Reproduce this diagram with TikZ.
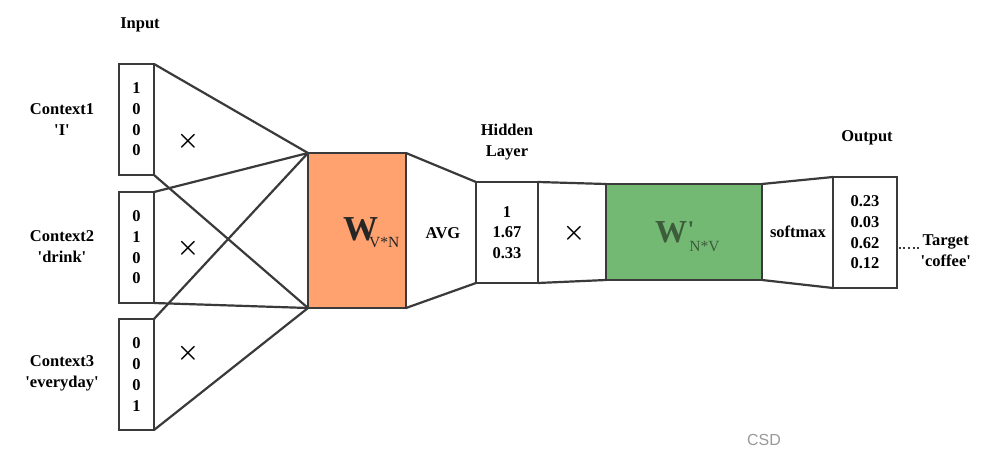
\documentclass[tikz,border=0pt]{standalone}
\usepackage{fontspec}
\setmainfont{Liberation Serif}[Ligatures=TeXOff]
\newfontfamily\csdfont{Liberation Sans}
\begin{document}
\begin{tikzpicture}[x=1pt,y=-1pt,
  edge/.style={draw=lineC,line width=2.2pt},
  vecbox/.style={draw=lineC,line width=2.2pt,inner sep=0pt,outer sep=0pt,align=center,
    font=\fontsize{16.5}{20.7}\selectfont\bfseries},
  lbl/.style={align=center,font=\fontsize{16.5}{21}\selectfont\bfseries},
  mult/.style={font=\fontsize{24}{24}\selectfont\boldmath},
  ]
\definecolor{lineC}{HTML}{3A3A3A}
\definecolor{orangeC}{HTML}{FFA26F}
\definecolor{greenC}{HTML}{73B873}
\definecolor{wgreen}{HTML}{3C5C3C}
\useasboundingbox[fill=white] (0,0) rectangle (1005,457);

% input vectors
\node[vecbox,minimum width=35,minimum height=111] (in1) at (136.5,119.5) {1\\0\\0\\0};
\node[vecbox,minimum width=35,minimum height=111] (in2) at (136.5,247.5) {0\\1\\0\\0};
\node[vecbox,minimum width=35,minimum height=111] (in3) at (136.5,374.5) {0\\0\\0\\1};

% W matrix
\node[vecbox,fill=orangeC,minimum width=98,minimum height=155] (W) at (357,230.5) {};
\node[anchor=base west,inner sep=0pt,text=black!85] (Wt) at (343,241)
  {\fontsize{35}{35}\selectfont\bfseries W\kern-9pt\fontsize{15.5}{15.5}\selectfont\mdseries\raisebox{-7pt}{V*N}};

% hidden layer
\node[vecbox,minimum width=62,minimum height=101] (hid) at (507,232.5) {1\\1.67\\0.33};

% W' matrix
\node[vecbox,fill=greenC,minimum width=156,minimum height=96] (Wp) at (684,232) {};
\node[anchor=base west,inner sep=0pt,text=wgreen] (Wpt) at (655,243)
  {\fontsize{32}{32}\selectfont\bfseries W\kern0.5pt\raisebox{5pt}{\fontsize{24}{24}\selectfont '}\kern-5pt\fontsize{15.5}{15.5}\selectfont\mdseries\raisebox{-9pt}{N*V}};

% output
\node[vecbox,minimum width=64,minimum height=111] (out) at (865,232.5) {0.23\\0.03\\0.62\\0.12};

% connectors: inputs to W
\draw[edge] (in1.north east) -- (W.north west);
\draw[edge] (in1.south east) -- (W.south west);
\draw[edge] (in2.north east) -- (W.north west);
\draw[edge] (in2.south east) -- (W.south west);
\draw[edge] (in3.north east) -- (W.north west);
\draw[edge] (in3.south east) -- (W.south west);

% W to hidden
\draw[edge] (W.north east) -- (hid.north west);
\draw[edge] (W.south east) -- (hid.south west);
% hidden to W'
\draw[edge] (hid.north east) -- (Wp.north west);
\draw[edge] (hid.south east) -- (Wp.south west);
% W' to output
\draw[edge] (Wp.north east) -- (out.north west);
\draw[edge] (Wp.south east) -- (out.south west);

% labels
\node[lbl] (inlbl) at (140,25) {Input};
\node[lbl] (c1) at (62,120) {Context1\\'I'};
\node[lbl] (c2) at (62,247) {Context2\\'drink'};
\node[lbl] (c3) at (62,373) {Context3\\'everyday'};
\node[lbl] (hidlbl) at (507,142) {Hidden\\Layer};
\node[lbl] (outlbl) at (867,138) {Output};
\node[lbl] (avg) at (443,233) {AVG};
\node[lbl] (soft) at (798,232) {softmax};
\node[lbl,anchor=west] (tgt) at (917,251) {Target\\'coffee'};
\coordinate (dotend) at (921,248);
\draw[lineC,line width=2pt,dash pattern=on 2pt off 2.6pt] (out.east |- dotend) ++(1.8,0) -- (dotend);

% multiplication marks
\node[mult] (x1) at (188,141) {$\times$};
\node[mult] (x2) at (188,248) {$\times$};
\node[mult] (x3) at (188,353) {$\times$};
\node[mult] (x4) at (574,233) {$\times$};

% watermark
\node[text=black!40,font=\csdfont\fontsize{16}{16}\selectfont] (csd) at (764,440) {CSD};
\end{tikzpicture}
\end{document}
